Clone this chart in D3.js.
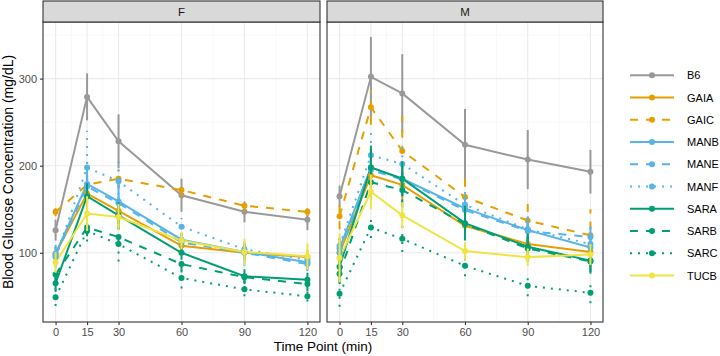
<!DOCTYPE html>
<html>
<head>
<meta charset="utf-8">
<script src="https://cdn.jsdelivr.net/npm/d3@7"></script>
<style>
  body { margin: 0; background: #fff; }
  svg text { font-family: "Liberation Sans", Arial, sans-serif; }
</style>
</head>
<body>
<div id="chart"></div>
<script>
// Data (mean and half-width of the error bar)
const strains = ["B6", "GAIA", "GAIC", "MANB", "MANE", "MANF", "SARA", "SARB", "SARC", "TUCB"];
const times = [0, 15, 30, 60, 90, 120];
const sexes = ["F", "M"];

const femaleMean = [
  [126, 279, 228, 166, 147, 138],
  [99, 168, 148, 108, 100, 95],
  [147, 178, 185, 172, 154, 147],
  [99, 179, 159, 115, 101, 89],
  [97, 176, 157, 112, 100, 87],
  [95, 198, 182, 130, 104, 92],
  [65, 165, 143, 100, 73, 69],
  [75, 129, 118, 87, 72, 64],
  [49, 125, 110, 71, 58, 50],
  [89, 145, 141, 114, 101, 96]
];
const femaleErr = [
  [12, 27, 31, 19, 12, 12],
  [8, 12, 15, 8, 8, 8],
  [5, 12, 10, 8, 6, 5],
  [10, 15, 20, 8, 10, 8],
  [10, 15, 20, 8, 15, 8],
  [10, 42, 25, 10, 8, 8],
  [10, 15, 15, 8, 8, 8],
  [10, 10, 10, 8, 8, 8],
  [10, 12, 20, 12, 8, 6],
  [12, 20, 15, 10, 15, 15]
];
const maleMean = [
  [165, 302, 283, 224, 207, 193],
  [100, 189, 178, 131, 110, 101],
  [142, 267, 217, 164, 137, 120],
  [105, 198, 185, 151, 126, 106],
  [100, 195, 184, 149, 125, 118],
  [108, 212, 202, 155, 127, 110],
  [84, 198, 185, 134, 107, 91],
  [76, 181, 172, 133, 105, 90],
  [53, 129, 116, 85, 62, 54],
  [94, 170, 143, 102, 95, 98]
];
const maleErr = [
  [12, 46, 45, 41, 34, 25],
  [12, 20, 20, 15, 15, 12],
  [15, 20, 40, 25, 27, 30],
  [12, 20, 20, 15, 15, 12],
  [12, 20, 20, 15, 15, 15],
  [12, 32, 20, 15, 15, 12],
  [12, 25, 20, 20, 15, 15],
  [12, 20, 20, 15, 15, 12],
  [15, 12, 15, 12, 12, 12],
  [28, 20, 15, 10, 10, 12]
];

const strainColors = ["#999999", "#E69F00", "#E69F00", "#56B4E9", "#56B4E9", "#56B4E9", "#009E73", "#009E73", "#009E73", "#F0E442"];
const strainDash = [null, null, "8,8", null, "8,8", "2,6", null, "8,8", "2,6", null];

const width = 720, height = 356;
const panels = [
  { sex: "F", x0: 43, x1: 320, means: femaleMean, errs: femaleErr },
  { sex: "M", x0: 327, x1: 603, means: maleMean, errs: maleErr }
];
const stripTop = 1, stripH = 21, plotTop = 22, plotBottom = 322;

const svg = d3.select("#chart").append("svg")
  .attr("width", width).attr("height", height);

const y = d3.scaleLinear().domain([20.5, 365]).range([plotBottom, plotTop]);

panels.forEach((p, pi) => {
  const x = d3.scaleLinear().domain([-6, 126]).range([p.x0, p.x1]);
  const g = svg.append("g");

  // grid
  const minorX = [7.5, 22.5, 45, 75, 105];
  g.selectAll(".gxm").data(minorX).enter().append("line")
    .attr("x1", d => x(d)).attr("x2", d => x(d))
    .attr("y1", plotTop).attr("y2", plotBottom)
    .attr("stroke", "#F2F2F2").attr("stroke-width", 0.6);
  g.selectAll(".gym").data([50, 150, 250, 350]).enter().append("line")
    .attr("x1", p.x0).attr("x2", p.x1)
    .attr("y1", d => y(d)).attr("y2", d => y(d))
    .attr("stroke", "#F2F2F2").attr("stroke-width", 0.6);
  g.selectAll(".gx").data(times).enter().append("line")
    .attr("x1", d => x(d)).attr("x2", d => x(d))
    .attr("y1", plotTop).attr("y2", plotBottom)
    .attr("stroke", "#EBEBEB").attr("stroke-width", 1.1);
  g.selectAll(".gy").data([100, 200, 300]).enter().append("line")
    .attr("x1", p.x0).attr("x2", p.x1)
    .attr("y1", d => y(d)).attr("y2", d => y(d))
    .attr("stroke", "#EBEBEB").attr("stroke-width", 1.1);

  // lines
  const line = d3.line().x((d, i) => x(times[i])).y(d => y(d));
  strains.forEach((s, si) => {
    g.append("path")
      .attr("d", line(p.means[si]))
      .attr("fill", "none")
      .attr("stroke", strainColors[si])
      .attr("stroke-width", 2)
      .attr("stroke-dasharray", strainDash[si]);
  });

  // error bars and points
  strains.forEach((s, si) => {
    times.forEach((t, ti) => {
      const m = p.means[si][ti], e = p.errs[si][ti];
      g.append("line")
        .attr("x1", x(t)).attr("x2", x(t))
        .attr("y1", y(m - e)).attr("y2", y(m + e))
        .attr("stroke", strainColors[si])
        .attr("stroke-width", 2)
        .attr("stroke-dasharray", strainDash[si]);
      g.append("circle")
        .attr("cx", x(t)).attr("cy", y(m)).attr("r", 3)
        .attr("fill", strainColors[si]);
    });
  });

  // panel border
  g.append("rect")
    .attr("x", p.x0).attr("y", plotTop)
    .attr("width", p.x1 - p.x0).attr("height", plotBottom - plotTop)
    .attr("fill", "none").attr("stroke", "#333333").attr("stroke-width", 1.1);

  // strip
  g.append("rect")
    .attr("x", p.x0).attr("y", stripTop)
    .attr("width", p.x1 - p.x0).attr("height", stripH)
    .attr("fill", "#D9D9D9").attr("stroke", "#333333").attr("stroke-width", 1.1);
  g.append("text")
    .attr("x", (p.x0 + p.x1) / 2).attr("y", stripTop + stripH / 2 + 4)
    .attr("text-anchor", "middle")
    .attr("font-size", 11.5).attr("fill", "#1A1A1A")
    .text(p.sex);

  // x axis
  const xAxis = d3.axisBottom(x).tickValues(times).tickSize(3).tickPadding(3);
  const xa = g.append("g").attr("transform", `translate(0,${plotBottom})`).call(xAxis);
  xa.select(".domain").remove();
  xa.selectAll(".tick line").attr("stroke", "#333333").attr("stroke-width", 1.1);
  xa.selectAll(".tick text").attr("font-size", 11).attr("fill", "#4D4D4D")
    .style("font-family", "Liberation Sans, Arial, sans-serif");

  if (pi === 0) {
    const yAxis = d3.axisLeft(y).tickValues([100, 200, 300]).tickSize(3).tickPadding(3);
    const ya = g.append("g").attr("transform", `translate(${p.x0},0)`).call(yAxis);
    ya.select(".domain").remove();
    ya.selectAll(".tick line").attr("stroke", "#333333").attr("stroke-width", 1.1);
    ya.selectAll(".tick text").attr("font-size", 11).attr("fill", "#4D4D4D")
      .style("font-family", "Liberation Sans, Arial, sans-serif");
  }
});

// axis titles
svg.append("text")
  .attr("x", (43 + 603) / 2).attr("y", 351)
  .attr("text-anchor", "middle").attr("font-size", 13.5).attr("fill", "#000")
  .text("Time Point (min)");
svg.append("text")
  .attr("transform", `translate(13,${(plotTop + plotBottom) / 2}) rotate(-90)`)
  .attr("text-anchor", "middle").attr("font-size", 14).attr("fill", "#000")
  .text("Blood Glucose Concentration (mg/dL)");

// legend
const legend = svg.append("g");
strains.forEach((s, si) => {
  const ly = 75.3 + si * 22.25;
  legend.append("line")
    .attr("x1", 630).attr("x2", 674).attr("y1", ly).attr("y2", ly)
    .attr("stroke", strainColors[si]).attr("stroke-width", 2)
    .attr("stroke-dasharray", strainDash[si]);
  legend.append("line")
    .attr("x1", 652).attr("x2", 652).attr("y1", ly - 2).attr("y2", ly + 2)
    .attr("stroke", strainColors[si]).attr("stroke-width", 2);
  legend.append("circle")
    .attr("cx", 652).attr("cy", ly).attr("r", 3)
    .attr("fill", strainColors[si]);
  legend.append("text")
    .attr("x", 687).attr("y", ly + 4)
    .attr("font-size", 11).attr("fill", "#000")
    .text(s);
});
</script>
</body>
</html>
